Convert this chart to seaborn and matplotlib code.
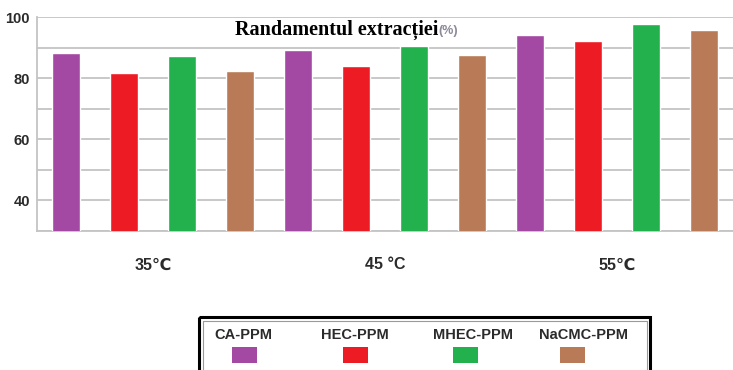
import matplotlib
matplotlib.use("Agg")
import matplotlib.pyplot as plt
from matplotlib.patches import Rectangle
import seaborn as sns
import pandas as pd

# Extraction yield (%) per polymer-membrane type at three temperatures
temperatures = ["35℃", "45 °C", "55℃"]
membranes = ["CA-PPM", "HEC-PPM", "MHEC-PPM", "NaCMC-PPM"]
ca_ppm = [88.2, 89.3, 94.1]
hec_ppm = [81.8, 84.0, 92.0]
mhec_ppm = [87.1, 90.6, 97.6]
nacmc_ppm = [82.5, 87.6, 95.7]
colors = ["#A349A4", "#ED1C24", "#22B14C", "#B97A57"]
y_ticks = [40, 60, 80, 100]

series = [ca_ppm, hec_ppm, mhec_ppm, nacmc_ppm]
df = pd.DataFrame({
    "temp": [t for _ in membranes for t in temperatures],
    "membrane": [m for m in membranes for _ in temperatures],
    "yield": [v for s in series for v in s],
})

sns.set_theme(style="white")
plt.rcParams["font.family"] = ["Liberation Sans", "DejaVu Sans"]

fig = plt.figure(figsize=(7.33, 3.70), dpi=100)
ax = fig.add_axes([37 / 733, (370 - 231) / 370, 696 / 733, (231 - 17) / 370])

sns.barplot(data=df, x="temp", y="yield", hue="membrane", order=temperatures,
            hue_order=membranes, palette=colors, width=1.0, gap=0.53,
            saturation=1.0, errorbar=None, legend=False, ax=ax, zorder=3)

ax.set_ylim(30, 100)
ax.set_xlim(-0.5, 2.5)
ax.set_yticks(range(30, 101, 10), minor=True)
ax.set_yticks(y_ticks)
ax.set_yticklabels([str(t) for t in y_ticks], fontsize=10.5, fontweight="bold", color="#2b2b2b")
ax.grid(True, axis="y", which="both", color="#c4c4c4", linewidth=1.3, zorder=0)
ax.set_axisbelow(True)
ax.tick_params(axis="y", which="both", length=4, color="#c4c4c4", width=1.3, pad=1)
ax.tick_params(axis="x", length=0, pad=19)
ax.set_xticklabels(temperatures, fontsize=11.5, fontweight="bold", color="#2b2b2b")
ax.set_xlabel("")
ax.set_ylabel("")
for side in ["top", "right"]:
    ax.spines[side].set_visible(False)
for side in ["left", "bottom"]:
    ax.spines[side].set_color("#c4c4c4")
    ax.spines[side].set_linewidth(1.3)

# Title inside the plot area
fig.text(235 / 733, 1 - 30 / 370, "Randamentul extracției", fontsize=14.5,
         fontweight="bold", family="Liberation Serif", color="black", va="center", ha="left")
fig.text(438 / 733, 1 - 31 / 370, "(%)", fontsize=9, fontweight="bold",
         family="Liberation Sans", color="#8a8a9a", va="center", ha="left")

# Legend box with labels above the colour swatches
lax = fig.add_axes([0, 0, 1, 1], facecolor="none")
lax.set_xlim(0, 733)
lax.set_ylim(370, 0)
lax.axis("off")
lax.add_patch(Rectangle((199, 317), 451, 70, fill=False, edgecolor="black", linewidth=2.2))
lax.add_patch(Rectangle((202.5, 320.5), 444, 70, fill=False, edgecolor="#9a9a9a", linewidth=0.8))
label_x = [243, 355, 473, 583]
swatch_x = [244, 355, 465, 572]
for name, col, lx, sx in zip(membranes, colors, label_x, swatch_x):
    lax.text(lx, 335, name, ha="center", va="center", fontsize=10.5, fontweight="bold",
             color="#2b2b2b")
    lax.add_patch(Rectangle((sx - 12.5, 347), 25, 16, facecolor=col, edgecolor="none"))

fig.savefig("out.png", dpi=100)
